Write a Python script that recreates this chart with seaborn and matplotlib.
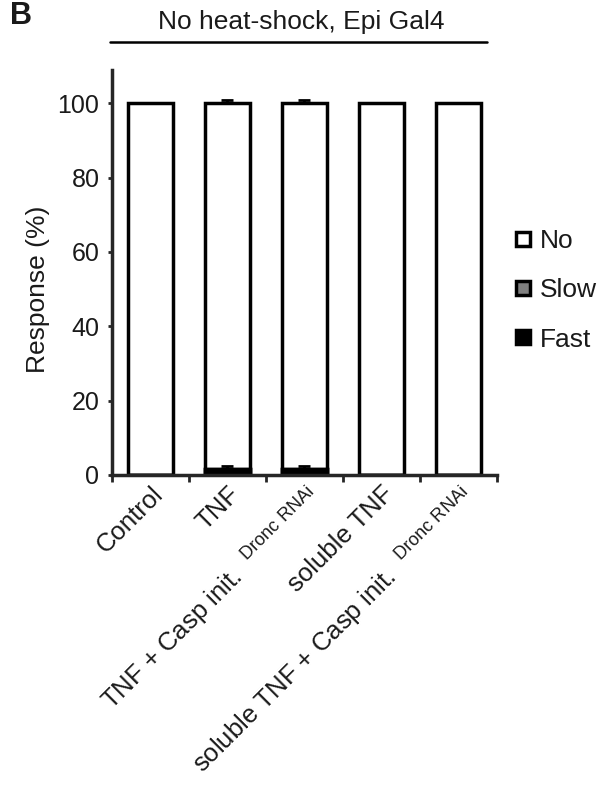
import numpy as np
import pandas as pd
import matplotlib
matplotlib.use('Agg')
import matplotlib.pyplot as plt
import seaborn as sns
from matplotlib.lines import Line2D

categories = ['Control', 'TNF', r'TNF + Casp init.  $^{\mathregular{Dronc\ RNAi}}$',
              'soluble TNF', r'soluble TNF + Casp init.  $^{\mathregular{Dronc\ RNAi}}$']
fast = [0, 1.5, 1.5, 0, 0]
slow = [0, 0, 0, 0, 0]
no = [100, 98.5, 98.5, 100, 100]
fast_err = [0, 1.0, 1.0, 0, 0]
no_err = [0, 0.8, 0.8, 0, 0]

sns.set_style('ticks')
plt.rcParams['font.family'] = ['Liberation Sans', 'DejaVu Sans']
plt.rcParams['mathtext.fontset'] = 'custom'
plt.rcParams['mathtext.rm'] = 'Liberation Sans'
plt.rcParams['font.size'] = 19
plt.rcParams['text.color'] = '#1a1a1a'

df = pd.DataFrame({'cond': categories, 'fast': fast, 'slow': slow, 'no': no})
df['fs'] = df['fast'] + df['slow']
df['total'] = df['fs'] + df['no']

fig = plt.figure(figsize=(6.15, 7.85), dpi=100)
ax = fig.add_axes([0.182, 0.395, 0.626, 0.516])

bw = 0.58
sns.barplot(x='cond', y='total', data=df, color='white', edgecolor='black',
            linewidth=2.5, width=bw, ax=ax, saturation=1)
sns.barplot(x='cond', y='fs', data=df, color='#808080', edgecolor='black',
            linewidth=2.5, width=bw, ax=ax, saturation=1)
sns.barplot(x='cond', y='fast', data=df, color='black', edgecolor='black',
            linewidth=2.5, width=bw, ax=ax, saturation=1)

xs = np.arange(len(categories))
for i in xs:
    if no_err[i] > 0:
        ax.errorbar(i, df['total'][i], yerr=[[0], [no_err[i]]], fmt='none',
                    ecolor='black', elinewidth=2, capsize=4, capthick=2)
    if fast_err[i] > 0:
        ax.errorbar(i, df['fast'][i], yerr=[[0], [fast_err[i]]], fmt='none',
                    ecolor='black', elinewidth=2, capsize=4, capthick=2)

ax.set_xlim(-0.5, 4.5)
ax.set_ylim(0, 109)
ax.set_yticks([0, 20, 40, 60, 80, 100])
ax.tick_params(axis='y', length=3, width=2, labelsize=18, pad=6, labelcolor='#1a1a1a')
ax.set_xticks(xs)
ax.set_xticklabels(categories, rotation=45, ha='right', rotation_mode='anchor', fontsize=18.5)
ax.tick_params(axis='x', which='major', length=0, pad=5, labelcolor='#1a1a1a')
ax.set_xticks(np.arange(-0.5, 5, 1), minor=True)
ax.tick_params(axis='x', which='minor', length=5, width=2, direction='out')
for s in ['top', 'right']:
    ax.spines[s].set_visible(False)
for s in ['left', 'bottom']:
    ax.spines[s].set_linewidth(2.5)
ax.set_xlabel('')
ax.set_ylabel('Response (%)', fontsize=19, color='#1a1a1a')
ax.yaxis.set_label_coords(-0.16, 50 / 109)

handles = [Line2D([], [], marker='s', ls='none', markersize=10, markeredgewidth=2.5,
                  markeredgecolor='black', markerfacecolor=c) for c in ['white', '#808080', 'black']]
fig.legend(handles, ['No', 'Slow', 'Fast'], loc='center left', bbox_to_anchor=(0.79, 0.63),
           frameon=False, fontsize=19, labelspacing=0.95, handletextpad=0.15, handlelength=1.0)

fig.text(0.49, 0.972, 'No heat-shock, Epi Gal4', ha='center', va='center', fontsize=19)
fig.add_artist(Line2D([110 / 615, 487 / 615], [1 - 42 / 785, 1 - 42 / 785], color='black', lw=1.8))
fig.text(0.016, 1 - 24 / 785, 'B', ha='left', va='baseline', fontsize=22, fontweight='bold')

fig.savefig('out.png', dpi=100)
